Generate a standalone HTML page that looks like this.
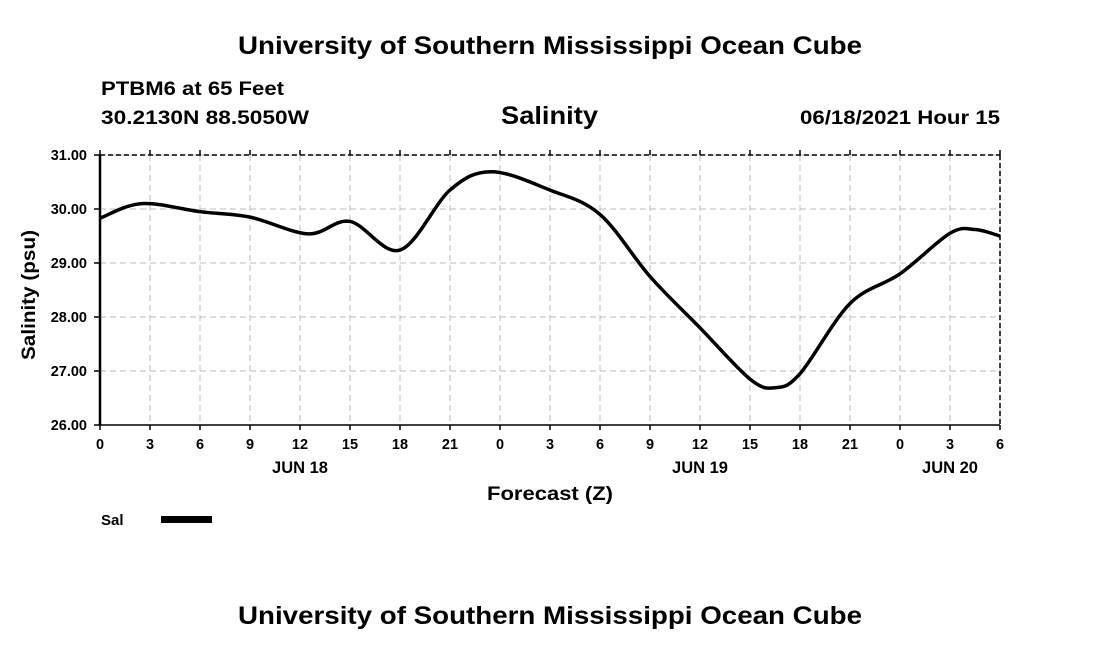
<!DOCTYPE html>
<html><head><meta charset="utf-8"><style>
body{margin:0;background:#fff;}
svg text{font-family:"Liberation Sans",Arial,sans-serif;font-weight:bold;fill:#000;}
</style></head><body>
<svg width="1100" height="650" viewBox="0 0 1100 650">
<text x="238" y="54" font-size="25" textLength="624" lengthAdjust="spacingAndGlyphs">University of Southern Mississippi Ocean Cube</text>
<text x="101" y="95" font-size="19" textLength="183" lengthAdjust="spacingAndGlyphs">PTBM6 at 65 Feet</text>
<text x="101" y="124" font-size="19" textLength="208" lengthAdjust="spacingAndGlyphs">30.2130N  88.5050W</text>
<text x="501" y="124" font-size="25" textLength="97" lengthAdjust="spacingAndGlyphs">Salinity</text>
<text x="800" y="124" font-size="19" textLength="200" lengthAdjust="spacingAndGlyphs">06/18/2021 Hour 15</text>
<text x="238" y="624" font-size="25" textLength="624" lengthAdjust="spacingAndGlyphs">University of Southern Mississippi Ocean Cube</text>
<g id="grid"></g>
<g id="axes"></g>
<path id="line" fill="none" stroke="#000" stroke-width="3.5"/>
<text x="487" y="500" font-size="19" textLength="126" lengthAdjust="spacingAndGlyphs">Forecast (Z)</text>
<text transform="translate(35,360) rotate(-90)" font-size="19" textLength="130" lengthAdjust="spacingAndGlyphs">Salinity (psu)</text>
<text x="101" y="525" font-size="15">Sal</text>
<rect x="161" y="516" width="51" height="7" fill="#000"/>
</svg>
<script>
const hours=[0,2.5,6,9,12.5,15,18,21,23.5,27,30,33,36,39,40.5,42,45,48,51,52.5,54];
const values=[29.83,30.1,29.95,29.85,29.54,29.77,29.24,30.35,30.69,30.35,29.9,28.75,27.8,26.85,26.69,26.95,28.25,28.8,29.55,29.62,29.5];
const yTicks=[26,27,28,29,30,31];
const xTickLabels=["0","3","6","9","12","15","18","21","0","3","6","9","12","15","18","21","0","3","6"];
const dayLabels=[{h:12,t:"JUN 18"},{h:36,t:"JUN 19"},{h:51,t:"JUN 20"}];
const L=100,R=1000,T=155,B=425,NS="http://www.w3.org/2000/svg";
const xs=h=>L+h/54*(R-L), ys=v=>B-(v-26)/5*(B-T);
const grid=document.getElementById('grid'),axes=document.getElementById('axes');
function mk(p,tag,a){const e=document.createElementNS(NS,tag);for(const k in a)e.setAttribute(k,a[k]);p.appendChild(e);return e;}
yTicks.forEach(v=>{
 const g=mk(grid,'line',{x1:L,x2:R,y1:ys(v),y2:ys(v),stroke:'#bbb','stroke-dasharray':'6,4'});
 
 
 const t=mk(axes,'line',{x1:L-6,x2:L,y1:ys(v),y2:ys(v),stroke:'#000','stroke-width':1.5});
 
 
 const tx=mk(axes,'text',{x:L-13,y:ys(v)+5,'font-size':14.5,'text-anchor':'end'});
 tx.textContent=v.toFixed(2);
 
 
});
xTickLabels.forEach((lab,i)=>{
 const x=xs(i*3);
 const g=mk(grid,'line',{x1:x,x2:x,y1:T,y2:B,stroke:'#bbb','stroke-dasharray':'6,4'});
 
 
 const t=mk(axes,'line',{x1:x,x2:x,y1:B,y2:B+5,stroke:'#000','stroke-width':1.5});
 
 
 const t2=mk(axes,'line',{x1:x,x2:x,y1:T-5,y2:T,stroke:'#000','stroke-width':1.5});
 
 
 const tx=mk(axes,'text',{x:x,y:B+24,'font-size':14.5,'text-anchor':'middle'});
 tx.textContent=lab;
 
 
});
dayLabels.forEach(d=>{
 const tx=mk(axes,'text',{x:xs(d.h),y:B+48,'font-size':16.5,'text-anchor':'middle'});
 tx.textContent=d.t;
 
 
});
mk(axes,'line',{x1:L,x2:R,y1:T,y2:T,stroke:'#000','stroke-width':1.5,'stroke-dasharray':'5,3'});
mk(axes,'line',{x1:R,x2:R,y1:T,y2:B,stroke:'#000','stroke-width':1.5,'stroke-dasharray':'5,3'});
mk(axes,'line',{x1:L,x2:R,y1:B,y2:B,stroke:'#000','stroke-width':1.5});
mk(axes,'line',{x1:L,x2:L,y1:T,y2:B,stroke:'#000','stroke-width':2.5});
const P=hours.map((h,i)=>[xs(h),ys(values[i])]);
let d=`M${P[0][0]},${P[0][1]}`;
for(let i=0;i<P.length-1;i++){
 const p0=P[Math.max(i-1,0)],p1=P[i],p2=P[i+1],p3=P[Math.min(i+2,P.length-1)];
 const c1=[p1[0]+(p2[0]-p0[0])/6,p1[1]+(p2[1]-p0[1])/6],c2=[p2[0]-(p3[0]-p1[0])/6,p2[1]-(p3[1]-p1[1])/6];
 d+=` C${c1[0]},${c1[1]} ${c2[0]},${c2[1]} ${p2[0]},${p2[1]}`;
}
document.getElementById('line').setAttribute('d',d);
</script>
</body></html>
